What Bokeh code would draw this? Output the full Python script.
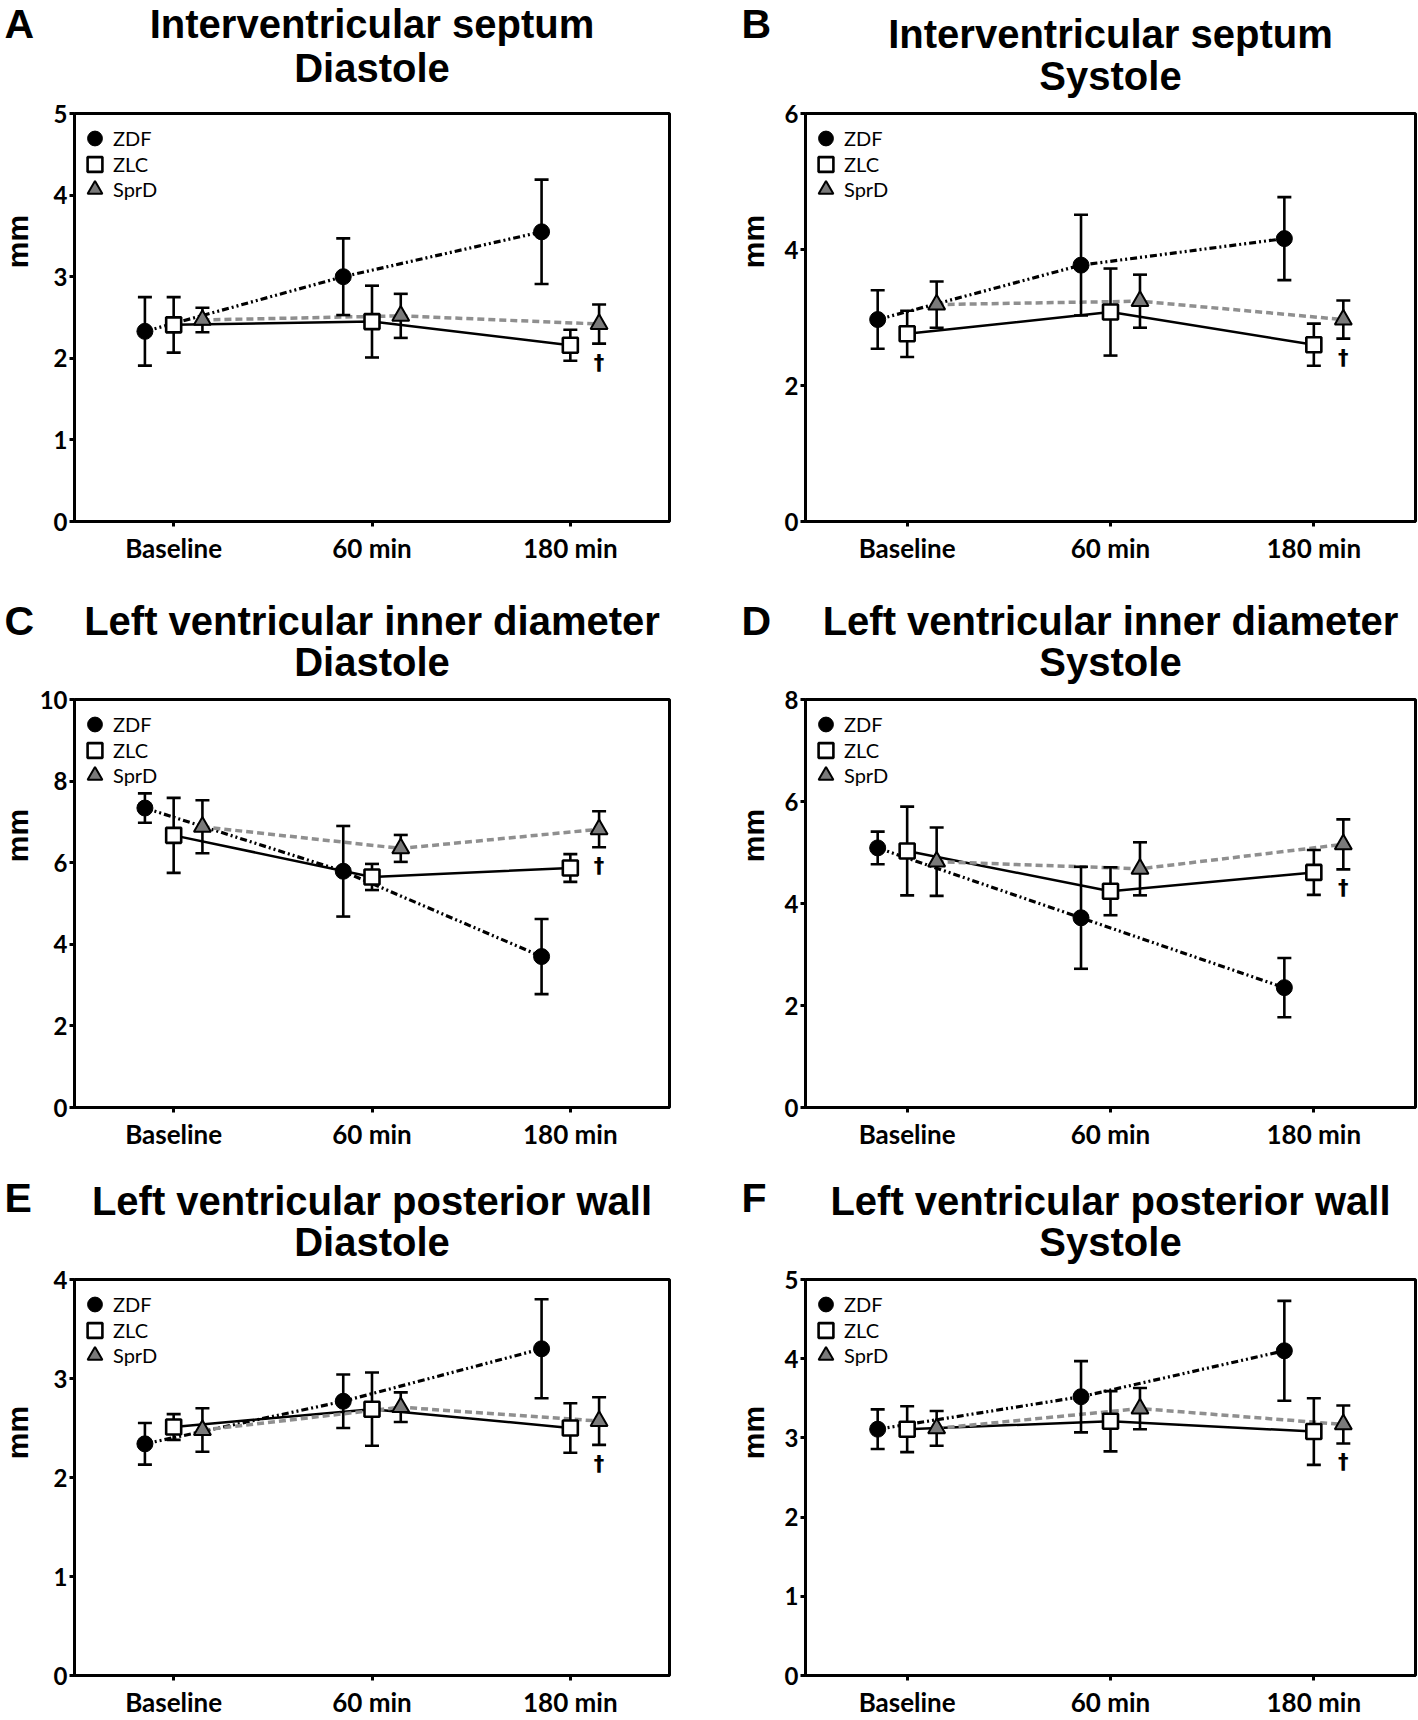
import math
from bokeh.plotting import figure
from bokeh.layouts import column, row
from bokeh.models import (ColumnDataSource, FactorRange, Range1d, FixedTicker,
                          Label, Legend, LegendItem)
from bokeh.transform import dodge
from bokeh.core.properties import value
from bokeh.embed import file_html
from bokeh.resources import INLINE

# ---------------- data ----------------
times = ["Baseline", "60 min", "180 min"]
groups = ["ZDF", "ZLC", "SprD"]
y_label = "mm"
dagger_time = "180 min"
dagger_group = "SprD"
dagger_symbol = "\u2020"

# A: Interventricular septum, diastole
A_title = ["Interventricular septum", "Diastole"]
A_yticks = [0, 1, 2, 3, 4, 5]
A_ZDF_mean = [2.33, 3.00, 3.55]
A_ZDF_sd = [0.42, 0.47, 0.64]
A_ZLC_mean = [2.41, 2.45, 2.16]
A_ZLC_sd = [0.34, 0.44, 0.19]
A_SprD_mean = [2.47, 2.52, 2.42]
A_SprD_sd = [0.15, 0.27, 0.24]

# B: Interventricular septum, systole
B_title = ["Interventricular septum", "Systole"]
B_yticks = [0, 2, 4, 6]
B_ZDF_mean = [2.97, 3.77, 4.16]
B_ZDF_sd = [0.43, 0.74, 0.61]
B_ZLC_mean = [2.76, 3.08, 2.60]
B_ZLC_sd = [0.34, 0.64, 0.31]
B_SprD_mean = [3.19, 3.24, 2.97]
B_SprD_sd = [0.34, 0.39, 0.28]

# C: LV inner diameter, diastole
C_title = ["Left ventricular inner diameter", "Diastole"]
C_yticks = [0, 2, 4, 6, 8, 10]
C_ZDF_mean = [7.34, 5.79, 3.70]
C_ZDF_sd = [0.36, 1.11, 0.92]
C_ZLC_mean = [6.67, 5.65, 5.87]
C_ZLC_sd = [0.92, 0.32, 0.34]
C_SprD_mean = [6.88, 6.35, 6.82]
C_SprD_sd = [0.65, 0.33, 0.44]

# D: LV inner diameter, systole
D_title = ["Left ventricular inner diameter", "Systole"]
D_yticks = [0, 2, 4, 6, 8]
D_ZDF_mean = [5.09, 3.72, 2.35]
D_ZDF_sd = [0.32, 1.00, 0.58]
D_ZLC_mean = [5.03, 4.24, 4.61]
D_ZLC_sd = [0.87, 0.47, 0.44]
D_SprD_mean = [4.82, 4.68, 5.16]
D_SprD_sd = [0.67, 0.52, 0.49]

# E: LV posterior wall, diastole
E_title = ["Left ventricular posterior wall", "Diastole"]
E_yticks = [0, 1, 2, 3, 4]
E_ZDF_mean = [2.34, 2.77, 3.30]
E_ZDF_sd = [0.21, 0.27, 0.50]
E_ZLC_mean = [2.51, 2.69, 2.50]
E_ZLC_sd = [0.13, 0.37, 0.25]
E_SprD_mean = [2.48, 2.71, 2.57]
E_SprD_sd = [0.22, 0.15, 0.24]

# F: LV posterior wall, systole
F_title = ["Left ventricular posterior wall", "Systole"]
F_yticks = [0, 1, 2, 3, 4, 5]
F_ZDF_mean = [3.11, 3.52, 4.10]
F_ZDF_sd = [0.25, 0.45, 0.63]
F_ZLC_mean = [3.11, 3.21, 3.08]
F_ZLC_sd = [0.29, 0.38, 0.42]
F_SprD_mean = [3.12, 3.37, 3.17]
F_SprD_sd = [0.22, 0.26, 0.24]

panels = [
    ("A", A_title, A_yticks, {"ZDF": (A_ZDF_mean, A_ZDF_sd), "ZLC": (A_ZLC_mean, A_ZLC_sd), "SprD": (A_SprD_mean, A_SprD_sd)}),
    ("B", B_title, B_yticks, {"ZDF": (B_ZDF_mean, B_ZDF_sd), "ZLC": (B_ZLC_mean, B_ZLC_sd), "SprD": (B_SprD_mean, B_SprD_sd)}),
    ("C", C_title, C_yticks, {"ZDF": (C_ZDF_mean, C_ZDF_sd), "ZLC": (C_ZLC_mean, C_ZLC_sd), "SprD": (C_SprD_mean, C_SprD_sd)}),
    ("D", D_title, D_yticks, {"ZDF": (D_ZDF_mean, D_ZDF_sd), "ZLC": (D_ZLC_mean, D_ZLC_sd), "SprD": (D_SprD_mean, D_SprD_sd)}),
    ("E", E_title, E_yticks, {"ZDF": (E_ZDF_mean, E_ZDF_sd), "ZLC": (E_ZLC_mean, E_ZLC_sd), "SprD": (E_SprD_mean, E_SprD_sd)}),
    ("F", F_title, F_yticks, {"ZDF": (F_ZDF_mean, F_ZDF_sd), "ZLC": (F_ZLC_mean, F_ZLC_sd), "SprD": (F_SprD_mean, F_SprD_sd)}),
]

# ---------------- style / layout ----------------
OFFSETS = {"ZDF": -0.145, "ZLC": 0.0, "SprD": 0.145}
LINE_STYLE = {
    "ZDF": dict(line_color="black", line_width=3.2, line_dash="7 3 2 3 2 3"),
    "ZLC": dict(line_color="black", line_width=2.5, line_dash="solid"),
    "SprD": dict(line_color="#8f8f8f", line_width=3.5, line_dash="7 4"),
}
MARKER_STYLE = {
    "ZDF": dict(marker="circle", size=16, fill_color="black", line_color="black", line_width=1),
    "ZLC": dict(marker="square", size=15, fill_color="white", line_color="black", line_width=2.6),
    "SprD": dict(marker="triangle", size=17, fill_color="#7a7a7a", line_color="black", line_width=2),
}
# per column: (strip width, y-label anchor x in strip, plot left border, frame width, plot right border)
COLS = [(34, 17, 40, 595, 67), (34, 17, 35, 610, 3)]
# per row: (header height, plot top border, frame height, plot bottom border)
ROWS = [(99, 14, 408, 76), (88, 14, 408, 68), (90, 14, 396, 44)]
# header text baselines above header bottom: (title line 1, title line 2, letter), letter x
HEAD_Y = {"A": (62, 18, 61, 4), "B": (52, 10, 61, 5), "C": (51, 10, 50, 4),
          "D": (51, 10, 50, 5), "E": (51, 10, 53, 4), "F": (51, 10, 53, 5)}
TITLE_FONT = "Liberation Sans"
LABEL_FONT = "Lato"
TITLE_SIZE, LETTER_SIZE = 40, 41
MID = 0.3465  # em-box middle above the baseline (Liberation Sans)
LEGEND_GW, LEGEND_GH = 37, 38
LEGEND_ROWS = [25, 50.5, 76]  # centre of each legend row below the frame top
LEGEND_X = 2


def text_fig(w, h):
    f = figure(width=w, height=h, x_range=Range1d(0, w), y_range=Range1d(0, h),
               x_axis_type=None, y_axis_type=None, toolbar_location=None,
               output_backend="svg", min_border=0)
    f.outline_line_color = None
    f.background_fill_color = "white"
    f.border_fill_color = "white"
    f.grid.visible = False
    return f


def make_panel(letter, title_lines, yticks, series, ci, ri):
    sw, sx, bl, FW, br = COLS[ci]
    hh, bt, FH, bb = ROWS[ri]
    total_w = sw + bl + FW + br
    plot_h = bt + FH + bb

    # ---- header: panel letter and two-line title ----
    head = text_fig(total_w, hh)
    y1, y2, yl, xl = HEAD_Y[letter]
    cx = sw + bl + FW / 2
    for txt, yb in ((title_lines[0], y1), (title_lines[1], y2)):
        head.add_layout(Label(x=cx, y=yb + MID * TITLE_SIZE, x_units="screen", y_units="screen",
                              text=txt, text_align="center", text_baseline="middle",
                              text_font=TITLE_FONT, text_font_style="bold",
                              text_font_size=f"{TITLE_SIZE}px", text_color="black"))
    head.add_layout(Label(x=xl, y=yl + MID * LETTER_SIZE, x_units="screen", y_units="screen",
                          text=letter, text_align="left", text_baseline="middle",
                          text_font=TITLE_FONT, text_font_style="bold",
                          text_font_size=f"{LETTER_SIZE}px", text_color="black"))

    # ---- y-axis title strip ----
    strip = text_fig(sw, plot_h)
    strip.add_layout(Label(x=sx, y=bb + FH / 2, x_units="screen", y_units="screen",
                           text=y_label, angle=math.pi / 2, text_align="center",
                           text_baseline="middle", text_font=TITLE_FONT,
                           text_font_style="bold", text_font_size="30px", text_color="black"))

    # ---- plot ----
    p = figure(x_range=FactorRange(*times), y_range=Range1d(0, yticks[-1]),
               frame_width=FW, frame_height=FH, output_backend="svg",
               toolbar_location=None, min_border_left=bl, min_border_right=br,
               min_border_top=bt, min_border_bottom=bb)
    p.xgrid.visible = False
    p.ygrid.visible = False
    p.outline_line_color = "black"
    p.outline_line_width = 3
    p.outline_line_alpha = 1.0
    p.background_fill_color = "white"
    p.border_fill_color = "white"

    for ax in (p.xaxis[0], p.yaxis[0]):
        ax.axis_line_width = 3
        ax.axis_line_color = "black"
        ax.major_tick_line_width = 3
        ax.major_tick_line_color = "black"
        ax.major_tick_out = 5
        ax.major_tick_in = 0
        ax.minor_tick_line_color = None
        ax.major_label_text_font = LABEL_FONT
        ax.major_label_text_font_style = "bold"
        ax.major_label_text_color = "black"
    p.xaxis.major_label_text_font_size = "26px"
    p.xaxis.major_label_standoff = 5
    p.yaxis.major_label_text_font_size = "24px"
    p.yaxis.major_label_standoff = 2
    p.yaxis.ticker = FixedTicker(ticks=yticks)

    srcs = {}
    for g in groups:
        mean, sd = series[g]
        srcs[g] = ColumnDataSource(dict(
            t=times, m=mean,
            lo=[m - s for m, s in zip(mean, sd)],
            hi=[m + s for m, s in zip(mean, sd)]))

    for g in groups:
        xd = dodge("t", OFFSETS[g], range=p.x_range)
        p.line(x=xd, y="m", source=srcs[g], **LINE_STYLE[g])
    for g in groups:
        xd = dodge("t", OFFSETS[g], range=p.x_range)
        p.segment(x0=xd, y0="lo", x1=xd, y1="hi", source=srcs[g],
                  line_color="black", line_width=2.6)
        for col in ("lo", "hi"):
            p.scatter(x=xd, y=col, source=srcs[g], marker="dash", size=14,
                      line_color="black", line_width=2.6)
    mark_r = {}
    for g in groups:
        xd = dodge("t", OFFSETS[g], range=p.x_range)
        mark_r[g] = p.scatter(x=xd, y="m", source=srcs[g], **MARKER_STYLE[g])

    # significance dagger below the SprD error bar
    k = times.index(dagger_time)
    mean, sd = series[dagger_group]
    dsrc = ColumnDataSource(dict(t=[dagger_time], lo=[mean[k] - sd[k]], sym=[dagger_symbol]))
    p.text(x=dodge("t", OFFSETS[dagger_group], range=p.x_range), y="lo", text="sym",
           source=dsrc, y_offset=19, text_align="center", text_baseline="middle",
           text_font=value("DejaVu Sans"), text_font_style="bold",
           text_font_size="21px", text_color="black")

    # legend: one single-row legend per group so markers can be drawn at full size
    for g, rc in zip(groups, LEGEND_ROWS):
        lg = Legend(items=[LegendItem(label=g, renderers=[mark_r[g]])],
                    location=(LEGEND_X, FH - rc - LEGEND_GH / 2),
                    border_line_alpha=0, background_fill_alpha=0,
                    label_text_font=LABEL_FONT, label_text_font_size="20px",
                    label_text_color="black", glyph_width=LEGEND_GW,
                    glyph_height=LEGEND_GH, spacing=0, margin=0, padding=0,
                    label_standoff=0)
        p.add_layout(lg)

    return column(head, row(strip, p))


cells = [make_panel(letter, tl, yt, s, i % 2, i // 2) for i, (letter, tl, yt, s) in enumerate(panels)]
layout = column(row(cells[0], cells[1]), row(cells[2], cells[3]), row(cells[4], cells[5]))

open("out.html", "w").write(file_html(layout, INLINE))
